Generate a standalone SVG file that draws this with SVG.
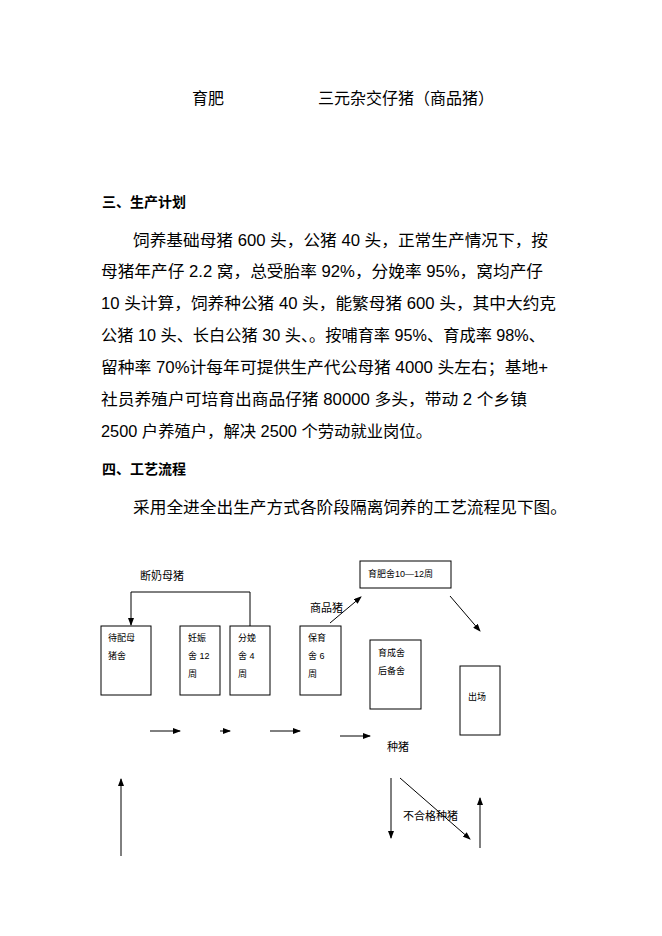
<svg xmlns="http://www.w3.org/2000/svg" width="662" height="936" viewBox="0 0 662 936">
<style>
text{font-family:"Liberation Sans","Noto Sans CJK SC",sans-serif;fill:#000}
.b{font-size:16px}
.h{font-size:14px;font-weight:bold}
.s{font-size:9px}
.m{font-size:11px}
rect{fill:#fff;stroke:#000;stroke-width:1}
line,polyline{stroke:#000;stroke-width:1;fill:none}
</style>
<defs><marker id="a" markerWidth="8" markerHeight="6" refX="7" refY="3" orient="auto" markerUnits="userSpaceOnUse"><path d="M0,0L8,3L0,6z" fill="#000"/></marker></defs>
<text class="b" x="192" y="104">育肥</text>
<text class="b" x="318" y="104">三元杂交仔猪（商品猪）</text>
<text class="h" x="102" y="207">三、生产计划</text>
<text class="b" x="133" y="246" textLength="415" lengthAdjust="spacingAndGlyphs">饲养基础母猪 600 头，公猪 40 头，正常生产情况下，按</text>
<text class="b" x="101" y="277" textLength="442" lengthAdjust="spacingAndGlyphs">母猪年产仔 2.2 窝，总受胎率 92%，分娩率 95%，窝均产仔</text>
<text class="b" x="101" y="309" textLength="455" lengthAdjust="spacingAndGlyphs">10 头计算，饲养种公猪 40 头，能繁母猪 600 头，其中大约克</text>
<text class="b" x="101" y="341" textLength="444" lengthAdjust="spacingAndGlyphs">公猪 10 头、长白公猪 30 头、。按哺育率 95%、育成率 98%、</text>
<text class="b" x="101" y="373" textLength="447" lengthAdjust="spacingAndGlyphs">留种率 70%计每年可提供生产代公母猪 4000 头左右；基地+</text>
<text class="b" x="101" y="405" textLength="426" lengthAdjust="spacingAndGlyphs">社员养殖户可培育出商品仔猪 80000 多头，带动 2 个乡镇</text>
<text class="b" x="101" y="437" textLength="331" lengthAdjust="spacingAndGlyphs">2500 户养殖户，解决 2500 个劳动就业岗位。</text>
<text class="h" x="102" y="474">四、工艺流程</text>
<text class="b" x="133" y="513" textLength="434" lengthAdjust="spacingAndGlyphs">采用全进全出生产方式各阶段隔离饲养的工艺流程见下图。</text>
<g id="connectors">
<polyline points="250,626 250,592 131,592 131,625" marker-end="url(#a)"/>
<line x1="330" y1="623" x2="361" y2="597" marker-end="url(#a)"/>
<line x1="450" y1="596" x2="480" y2="631" marker-end="url(#a)"/>
<line x1="150" y1="731" x2="180" y2="731" marker-end="url(#a)"/>
<line x1="220" y1="731" x2="230" y2="731" marker-end="url(#a)"/>
<line x1="270" y1="731" x2="300" y2="731" marker-end="url(#a)"/>
<line x1="340" y1="736" x2="370" y2="736" marker-end="url(#a)"/>
<line x1="391" y1="778" x2="391" y2="838" marker-end="url(#a)"/>
<line x1="400" y1="778" x2="470" y2="839" marker-end="url(#a)"/>
<line x1="480" y1="848" x2="480" y2="798" marker-end="url(#a)"/>
<line x1="121" y1="856" x2="121" y2="779" marker-end="url(#a)"/>
</g>
<text class="m" x="140" y="580">断奶母猪</text>
<text class="m" x="310" y="612">商品猪</text>
<text class="m" x="387" y="751">种猪</text>
<text class="m" x="403" y="820">不合格种猪</text>
<g id="n1"><rect x="101" y="626" width="50" height="69"/><text class="s" x="108" y="641">待配母</text><text class="s" x="108" y="659">猪舍</text></g>
<g id="n2"><rect x="180" y="626" width="40" height="69"/><text class="s" x="188" y="641">妊娠</text><text class="s" x="188" y="659">舍 12</text><text class="s" x="188" y="677">周</text></g>
<g id="n3"><rect x="230" y="626" width="40" height="69"/><text class="s" x="238" y="641">分娩</text><text class="s" x="238" y="659">舍 4</text><text class="s" x="238" y="677">周</text></g>
<g id="n4"><rect x="300" y="626" width="41" height="69"/><text class="s" x="308" y="641">保育</text><text class="s" x="308" y="659">舍 6</text><text class="s" x="308" y="677">周</text></g>
<g id="n5"><rect x="370" y="640" width="51" height="69"/><text class="s" x="378" y="656">育成舍</text><text class="s" x="378" y="674">后备舍</text></g>
<g id="n6"><rect x="460" y="666" width="40" height="69"/><text class="s" x="468" y="700">出场</text></g>
<g id="n7"><rect x="360" y="561" width="91" height="27"/><text class="s" x="368" y="577">育肥舍10—12周</text></g>
</svg>
